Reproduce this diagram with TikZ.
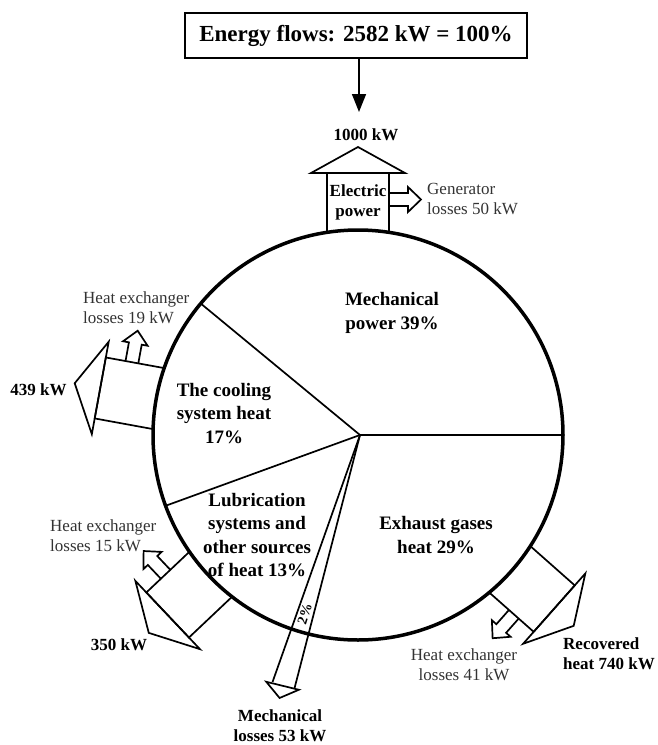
\documentclass[tikz,border=0pt]{standalone}
\usepackage{fontspec}
\setmainfont{Liberation Serif}
\usetikzlibrary{arrows.meta,calc}
\begin{document}
\begin{tikzpicture}[x=1pt,y=1pt,
  ln/.style={line width=1.7pt, line join=miter},
  big/.style={font=\fontsize{19}{23.5}\selectfont\bfseries, align=center, inner sep=0pt},
  bl/.style={font=\fontsize{17}{20}\selectfont\bfseries, align=center, inner sep=0pt},
  nl/.style={font=\fontsize{17}{20}\selectfont, text=black!80, inner sep=0pt},
  exch/.pic={
    \draw[ln] (202.6,31) -- (262,31) -- (262,-31) -- (202.6,-31);
    \draw[ln] (262,47) -- (288,0) -- (262,-47) -- cycle;
    \draw[ln] (229,-31) -- (229,-50) -- (223,-50) -- (235.5,-63) -- (248,-50) -- (242,-50) -- (242,-31);
  }]
\path[use as bounding box] (0,0) rectangle (657,-745);
\coordinate (O) at (358,-435);
\coordinate (H) at (360,-435);

% title box and arrow
\node[draw, line width=2pt, minimum width=342pt, minimum height=45pt, inner sep=0pt,
      font=\fontsize{23}{26}\selectfont\bfseries] (E) at (356,-35.5) {Energy flows: 2582 kW = 100\%};
\coordinate (A) at (359,-112);
\draw[line width=1.5pt, -{Triangle[width=14pt,length=18pt]}] (E.south -| A) -- (A);

% exchanger glyphs
\pic[rotate=90] at (O) {exch};
\pic[rotate=169.65] at (O) {exch};
\pic[rotate=223.4] at (O) {exch};
\pic[rotate=318.5] at (O) {exch};

% spokes
\coordinate (s0) at ($(O)+(0:205)$);
\coordinate (s1) at ($(O)+(140.1:205)$);
\coordinate (s2) at ($(O)+(200.2:205)$);
\draw[ln] (H) -- (s0);
\draw[ln] (H) -- (s1);
\draw[ln] (H) -- (s2);

% mechanical losses arrow
\coordinate (m1) at ($(H)+(250.5:262)$);
\coordinate (m2) at ($(H)+(255.5:262)$);
\coordinate (h1) at ($(H)+(249.2:264)$);
\coordinate (h2) at ($(H)+(256.5:262)$);
\coordinate (h3) at ($(H)+(253:275)$);
\draw[ln] (H) -- (m1);
\draw[ln] (H) -- (m2);
\draw[ln] (h1) -- (h3) -- (h2) -- cycle;
\node[font=\fontsize{14}{16}\selectfont\bfseries, inner sep=0pt, rotate=72.6] (pct) at ($(H)+(252.8:187)$) {2\%};

% circle
\draw[line width=3.5pt] (O) circle[radius=205];

% labels
\node[bl] (kw1000) at (366,-135) {1000 kW};
\node[bl] (elec) at (358,-202) {Electric\\power};
\node[nl, anchor=west, align=left] (gen) at (427,-198.5) {Generator\\losses 50 kW};
\node[big] (mech) at (392,-313) {Mechanical\\power 39\%};
\node[big] (cool) at (224,-413.5) {The cooling\\system heat\\17\%};
\node[big] (lub) at (257,-535) {Lubrication\\systems and\\other sources\\of heat 13\%};
\node[big] (exh) at (436,-535) {Exhaust gases\\heat 29\%};
\node[nl, anchor=west, align=left] (hx19) at (83,-308) {Heat exchanger\\losses 19 kW};
\node[bl] (kw439) at (38.5,-390) {439 kW};
\node[nl, anchor=west, align=left] (hx15) at (50,-535.5) {Heat exchanger\\losses 15 kW};
\node[bl] (kw350) at (119,-645) {350 kW};
\node[bl] (mloss) at (280,-726) {Mechanical\\losses 53 kW};
\node[nl, align=center] (hx41) at (464,-665) {Heat exchanger\\losses 41 kW};
\node[bl, anchor=west, align=left] (rec) at (563,-654) {Recovered\\heat 740 kW};
\end{tikzpicture}
\end{document}
